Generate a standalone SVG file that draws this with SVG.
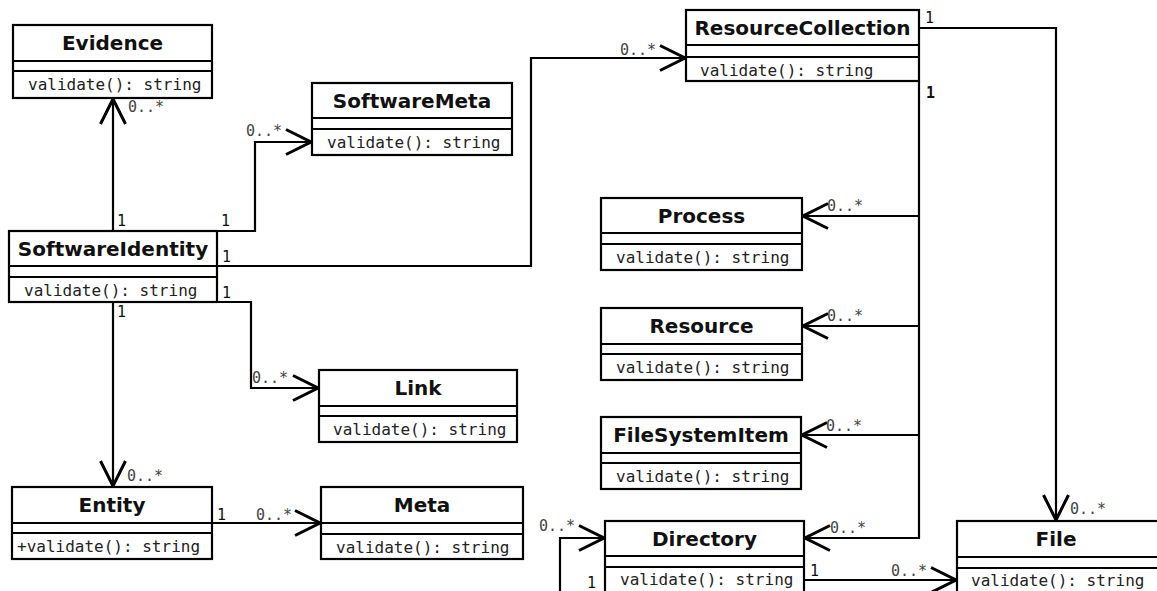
<svg xmlns="http://www.w3.org/2000/svg" width="1157" height="591" viewBox="0 0 1157 591">
  <style>
    .box { fill: #ffffff; stroke: #000000; stroke-width: 2.2; }
    .sep { stroke: #000000; stroke-width: 2.2; }
    .title { font-family: "DejaVu Sans", "Liberation Sans", sans-serif; font-weight: bold; font-size: 20px; fill: #111111; text-anchor: middle; }
    .op { font-family: "DejaVu Sans Mono", "Liberation Mono", monospace; font-size: 16px; fill: #222222; }
    .mult { font-family: "DejaVu Sans Mono", "Liberation Mono", monospace; font-size: 15px; fill: #444444; }
    .one { font-family: "DejaVu Sans Mono", "Liberation Mono", monospace; font-size: 15px; fill: #111111; }
    .edge { fill: none; stroke: #000000; stroke-width: 2.2; }
    .arrow { marker-end: url(#open); }
  </style>
  <defs>
    <marker id="open" markerUnits="userSpaceOnUse" markerWidth="30" markerHeight="30" viewBox="-22 -12 24 24" refX="0" refY="0" orient="auto">
      <path d="M-20,-10 L0,0 L-20,10" fill="none" stroke="#000000" stroke-width="2.4"/>
    </marker>
  </defs>
  <rect width="1157" height="591" fill="#ffffff"/>

  <!-- associations -->
  <g id="connectors">
    <path class="edge arrow" d="M113,231 V99"/>
    <path class="edge arrow" d="M217,231 H255 V142 H311"/>
    <path class="edge arrow" d="M217,266 H531 V58 H685"/>
    <path class="edge arrow" d="M217,302 H251 V388 H318"/>
    <path class="edge arrow" d="M113,302 V486"/>
    <path class="edge arrow" d="M212,523 H320"/>
    <path class="edge arrow" d="M919,81 V538 H805"/>
    <path class="edge arrow" d="M919,216 H803"/>
    <path class="edge arrow" d="M919,326 H803"/>
    <path class="edge arrow" d="M919,435 H802"/>
    <path class="edge arrow" d="M919,28 H1056 V520"/>
    <path class="edge arrow" d="M804,580 H956"/>
    <path class="edge arrow" d="M560,600 V538 H604"/>

    <text class="one" x="117" y="226">1</text>
    <text class="mult" x="128" y="112">0..*</text>
    <text class="one" x="221" y="226">1</text>
    <text class="mult" x="246" y="136">0..*</text>
    <text class="one" x="222" y="262">1</text>
    <text class="mult" x="620" y="55">0..*</text>
    <text class="one" x="222" y="298">1</text>
    <text class="mult" x="252" y="383">0..*</text>
    <text class="one" x="117" y="317">1</text>
    <text class="mult" x="127" y="481">0..*</text>
    <text class="one" x="217" y="520">1</text>
    <text class="mult" x="256" y="520">0..*</text>
    <text class="one" x="925" y="23">1</text>
    <text class="one" x="926" y="98" font-weight="bold">1</text>
    <text class="mult" x="827" y="211">0..*</text>
    <text class="mult" x="827" y="321">0..*</text>
    <text class="mult" x="826" y="431">0..*</text>
    <text class="mult" x="830" y="533">0..*</text>
    <text class="mult" x="1070" y="514">0..*</text>
    <text class="one" x="810" y="576">1</text>
    <text class="mult" x="891" y="576">0..*</text>
    <text class="mult" x="539" y="531">0..*</text>
    <text class="one" x="587" y="588">1</text>
  </g>

  <!-- classes -->
  <g id="evidence">
    <rect class="box" x="13" y="25" width="199" height="73"/>
    <line class="sep" x1="13" y1="61" x2="212" y2="61"/>
    <line class="sep" x1="13" y1="71" x2="212" y2="71"/>
    <text class="title" x="112.5" y="50">Evidence</text>
    <text class="op" x="28" y="90">validate(): string</text>
  </g>
  <g id="software-meta">
    <rect class="box" x="312" y="83" width="200" height="72"/>
    <line class="sep" x1="312" y1="118" x2="512" y2="118"/>
    <line class="sep" x1="312" y1="129" x2="512" y2="129"/>
    <text class="title" x="412" y="108">SoftwareMeta</text>
    <text class="op" x="327" y="148">validate(): string</text>
  </g>
  <g id="software-identity">
    <rect class="box" x="9" y="231" width="208" height="71"/>
    <line class="sep" x1="9" y1="266" x2="217" y2="266"/>
    <line class="sep" x1="9" y1="277" x2="217" y2="277"/>
    <text class="title" x="113" y="256">SoftwareIdentity</text>
    <text class="op" x="24" y="296">validate(): string</text>
  </g>
  <g id="link">
    <rect class="box" x="319" y="370" width="198" height="72"/>
    <line class="sep" x1="319" y1="406" x2="517" y2="406"/>
    <line class="sep" x1="319" y1="416" x2="517" y2="416"/>
    <text class="title" x="418" y="395">Link</text>
    <text class="op" x="333" y="435">validate(): string</text>
  </g>
  <g id="entity">
    <rect class="box" x="12" y="487" width="200" height="72"/>
    <line class="sep" x1="12" y1="523" x2="212" y2="523"/>
    <line class="sep" x1="12" y1="533" x2="212" y2="533"/>
    <text class="title" x="112" y="512">Entity</text>
    <text class="op" x="17" y="552">+validate(): string</text>
  </g>
  <g id="meta">
    <rect class="box" x="321" y="487" width="202" height="72"/>
    <line class="sep" x1="321" y1="523" x2="523" y2="523"/>
    <line class="sep" x1="321" y1="534" x2="523" y2="534"/>
    <text class="title" x="422" y="512">Meta</text>
    <text class="op" x="336" y="553">validate(): string</text>
  </g>
  <g id="resource-collection">
    <rect class="box" x="686" y="10" width="233" height="71"/>
    <line class="sep" x1="686" y1="45" x2="919" y2="45"/>
    <line class="sep" x1="686" y1="57" x2="919" y2="57"/>
    <text class="title" x="802.5" y="35">ResourceCollection</text>
    <text class="op" x="700" y="76">validate(): string</text>
  </g>
  <g id="process">
    <rect class="box" x="601" y="198" width="201" height="72"/>
    <line class="sep" x1="601" y1="233" x2="802" y2="233"/>
    <line class="sep" x1="601" y1="244" x2="802" y2="244"/>
    <text class="title" x="701.5" y="223">Process</text>
    <text class="op" x="616" y="263">validate(): string</text>
  </g>
  <g id="resource">
    <rect class="box" x="601" y="308" width="201" height="72"/>
    <line class="sep" x1="601" y1="344" x2="802" y2="344"/>
    <line class="sep" x1="601" y1="354" x2="802" y2="354"/>
    <text class="title" x="701.5" y="333">Resource</text>
    <text class="op" x="616" y="373">validate(): string</text>
  </g>
  <g id="file-system-item">
    <rect class="box" x="601" y="417" width="200" height="72"/>
    <line class="sep" x1="601" y1="453" x2="801" y2="453"/>
    <line class="sep" x1="601" y1="463" x2="801" y2="463"/>
    <text class="title" x="701" y="442">FileSystemItem</text>
    <text class="op" x="616" y="482">validate(): string</text>
  </g>
  <g id="directory">
    <rect class="box" x="605" y="521" width="199" height="76"/>
    <line class="sep" x1="605" y1="556" x2="804" y2="556"/>
    <line class="sep" x1="605" y1="567" x2="804" y2="567"/>
    <text class="title" x="704.5" y="546">Directory</text>
    <text class="op" x="620" y="585">validate(): string</text>
  </g>
  <g id="file">
    <rect class="box" x="957" y="521" width="202" height="76"/>
    <line class="sep" x1="957" y1="557" x2="1159" y2="557"/>
    <line class="sep" x1="957" y1="568" x2="1159" y2="568"/>
    <text class="title" x="1056" y="546">File</text>
    <text class="op" x="971" y="586">validate(): string</text>
  </g>
</svg>
